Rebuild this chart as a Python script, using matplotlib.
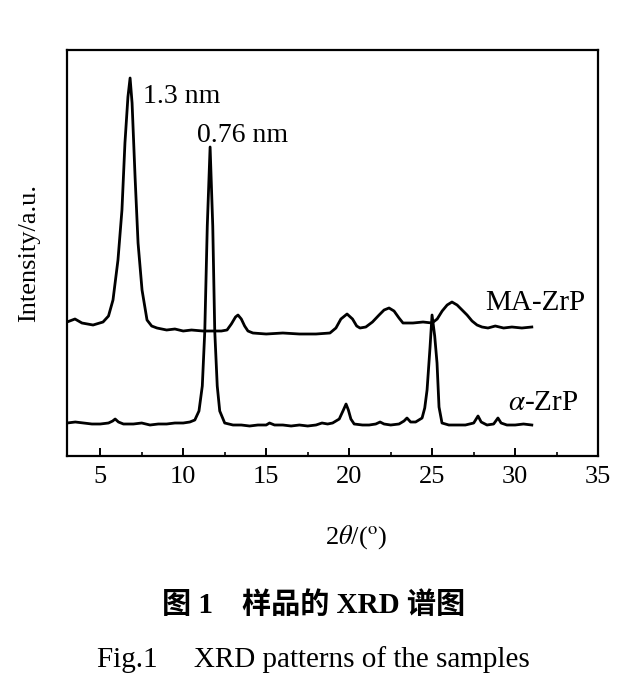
import matplotlib
matplotlib.use("Agg")
import matplotlib.pyplot as plt
import matplotlib.ticker as tck

plt.rcParams['font.family'] = ['Liberation Serif', 'DejaVu Serif']
plt.rcParams['mathtext.fontset'] = 'stix'

# MA-ZrP pattern (2theta, intensity in a.u.)
ma_2theta = [3.0, 3.48, 3.9, 4.57, 5.17, 5.5, 5.77, 6.07, 6.31, 6.49, 6.67, 6.8, 6.92,
             7.1, 7.28, 7.52, 7.82, 8.1, 8.42, 9.0, 9.5, 10.0, 10.5, 11.19, 11.8, 12.3,
             12.64, 12.9, 13.15, 13.3, 13.5, 13.7, 13.9, 14.2, 15.0, 16.0, 17.0, 18.0,
             18.84, 19.2, 19.5, 19.87, 20.2, 20.45, 20.65, 21.0, 21.4, 21.8, 22.1, 22.4,
             22.7, 23.0, 23.24, 23.84, 24.45, 24.99, 25.3, 25.6, 25.9, 26.19, 26.5, 26.8,
             27.1, 27.4, 27.7, 28.0, 28.36, 28.8, 29.3, 29.8, 30.4, 31.0]
ma_int = [134, 137, 133, 131, 134, 140, 156, 196, 246, 313, 359, 378, 353,
          279, 213, 166, 136, 130, 128, 126, 127, 125, 126, 125, 125, 125,
          126, 132, 139, 141, 137, 130, 125, 123, 122, 123, 122, 122,
          123, 128, 137, 142, 137, 130, 128, 129, 134, 141, 146, 148,
          145, 138, 133, 133, 134, 133, 137, 145, 151, 154, 151, 146,
          141, 135, 131, 129, 128, 130, 128, 129, 128, 129]

# alpha-ZrP pattern
a_2theta = [3.0, 3.5, 4.0, 4.5, 5.0, 5.5, 5.75, 5.9, 6.1, 6.4, 7.0, 7.5, 8.0, 8.5, 9.0,
            9.5, 10.0, 10.4, 10.7, 10.95, 11.15, 11.3, 11.45, 11.62, 11.78, 11.9, 12.05,
            12.2, 12.5, 13.0, 13.5, 14.0, 14.5, 15.0, 15.2, 15.5, 16.0, 16.5, 17.0, 17.5,
            18.0, 18.36, 18.7, 19.0, 19.4, 19.65, 19.81, 19.95, 20.1, 20.3, 20.8, 21.2,
            21.6, 21.86, 22.1, 22.5, 23.0, 23.3, 23.48, 23.7, 24.0, 24.39, 24.55, 24.69,
            24.87, 24.99, 25.15, 25.29, 25.41, 25.59, 26.0, 26.5, 27.0, 27.5, 27.76,
            27.95, 28.3, 28.7, 28.96, 29.15, 29.5, 30.0, 30.5, 31.0]
a_int = [33, 34, 33, 32, 32, 33, 35, 37, 34, 32, 32, 33, 31, 32, 32,
         33, 33, 34, 36, 45, 70, 125, 230, 309, 230, 125, 70,
         45, 33, 31, 31, 30, 31, 31, 33, 31, 31, 30, 31, 30,
         31, 33, 32, 33, 37, 46, 52, 46, 37, 32, 31, 31,
         32, 34, 32, 31, 32, 35, 38, 34, 34, 38, 48, 66,
         109, 141, 120, 93, 49, 33, 31, 31, 31, 33, 40,
         34, 31, 32, 38, 33, 31, 31, 32, 31]

fig = plt.figure(figsize=(6.4, 6.85), dpi=100)
ax = fig.add_axes([0.1047, 0.3343, 0.830, 0.5927])

ax.plot(ma_2theta, ma_int, color='black', lw=2.0)
ax.plot(a_2theta, a_int, color='black', lw=2.0)

ax.set_xlim(3, 35)
ax.set_ylim(0, 406)
ax.xaxis.set_major_locator(tck.MultipleLocator(5))
ax.xaxis.set_minor_locator(tck.MultipleLocator(2.5))
ax.tick_params(axis='x', which='major', direction='in', length=6, width=1.4,
               labelsize=19, pad=7, top=False)
ax.tick_params(axis='x', which='minor', direction='in', length=3, width=1.2, top=False)
ax.set_yticks([])
for s in ax.spines.values():
    s.set_linewidth(1.6)

ax.set_xlabel(r'2$\theta$/($^{\rm o}$)', fontsize=19)
ax.xaxis.set_label_coords(0.544, -0.165)
ax.set_ylabel('Intensity/a.u.', fontsize=19)
ax.yaxis.set_label_coords(-0.05, 0.5)

ax.text(7.58, 353, '1.3 nm', fontsize=20, va='baseline')
ax.text(10.83, 314, '0.76 nm', fontsize=20, va='baseline')
ax.text(28.18, 146, 'MA-ZrP', fontsize=21, va='baseline')
ax.text(29.57, 46, r'$\alpha$-ZrP', fontsize=21, va='baseline')

fig.text(0.49, 0.1168, '图 1    样品的 XRD 谱图', ha='center', va='center', fontsize=21,
         fontweight='bold', family=['Liberation Serif', 'Noto Sans CJK SC'])
fig.text(0.49, 0.0365, 'Fig.1     XRD patterns of the samples', ha='center', va='center',
         fontsize=21)

fig.savefig('out.png', dpi=100)
